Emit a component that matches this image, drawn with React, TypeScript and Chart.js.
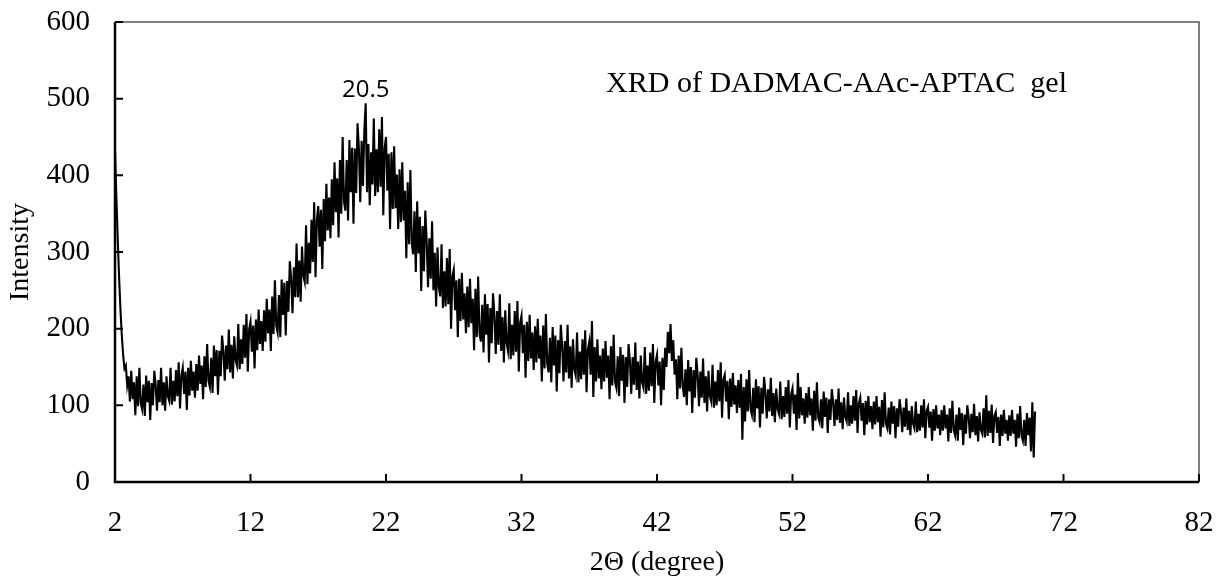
import React, { useEffect, useRef } from "react";
import { Chart, registerables } from "chart.js";

Chart.register(...registerables);

// 2θ grid of the scan (degrees)
const twoThetaStart = 2.0;
const twoThetaStep = 0.1;

const intensity: number[] = [
  432, 372, 318, 268, 226, 192, 166, 148, 152, 126,
  138, 105, 145, 108, 130, 87, 138, 99, 149, 103,
  95, 127, 86, 139, 104, 132, 81, 129, 100, 145,
  127, 93, 133, 104, 149, 100, 130, 93, 138, 112,
  106, 149, 101, 132, 105, 146, 112, 156, 96, 139,
  149, 115, 144, 94, 149, 113, 158, 119, 144, 110,
  154, 119, 165, 128, 152, 108, 164, 124, 180, 132,
  124, 162, 116, 178, 138, 172, 114, 171, 138, 191,
  171, 132, 178, 147, 199, 143, 179, 135, 190, 159,
  152, 206, 147, 186, 154, 205, 162, 219, 144, 199,
  209, 170, 204, 148, 212, 172, 225, 180, 210, 171,
  224, 183, 239, 194, 225, 171, 242, 193, 263, 204,
  195, 244, 189, 264, 218, 260, 191, 262, 222, 288,
  266, 220, 280, 241, 311, 241, 289, 235, 307, 269,
  261, 335, 258, 312, 272, 342, 287, 365, 267, 342,
  360, 307, 355, 278, 369, 314, 389, 328, 371, 318,
  395, 335, 417, 352, 396, 319, 420, 350, 450, 366,
  354, 420, 341, 446, 378, 436, 337, 435, 377, 468,
  435, 365, 445, 386, 458, 494, 378, 441, 361, 430,
  388, 474, 373, 434, 378, 460, 385, 476, 348, 436,
  450, 380, 428, 330, 430, 356, 438, 357, 401, 330,
  408, 339, 417, 341, 380, 292, 391, 310, 407, 312,
  297, 353, 274, 366, 298, 346, 249, 334, 275, 354,
  316, 254, 318, 265, 340, 250, 299, 229, 306, 254,
  242, 310, 227, 275, 229, 292, 232, 304, 200, 269,
  277, 224, 263, 189, 265, 210, 273, 212, 246, 194,
  255, 202, 265, 207, 239, 172, 252, 189, 268, 194,
  183, 231, 169, 245, 192, 232, 156, 227, 181, 246,
  218, 167, 223, 179, 245, 171, 215, 156, 224, 181,
  171, 233, 160, 205, 165, 223, 170, 236, 144, 208,
  217, 168, 205, 136, 209, 158, 218, 161, 195, 146,
  203, 156, 213, 161, 191, 131, 204, 148, 219, 154,
  143, 188, 130, 202, 152, 191, 118, 185, 142, 205,
  178, 131, 184, 143, 205, 135, 177, 123, 186, 147,
  139, 195, 130, 170, 134, 186, 140, 198, 117, 173,
  183, 140, 210, 111, 176, 131, 186, 135, 165, 121,
  174, 131, 184, 136, 165, 108, 177, 126, 192, 131,
  123, 164, 112, 176, 132, 166, 103, 163, 124, 180,
  158, 115, 163, 127, 182, 120, 157, 109, 165, 130,
  123, 176, 115, 152, 119, 169, 125, 180, 103, 157,
  166, 126, 157, 100, 162, 120, 175, 150, 196, 168,
  206, 158, 185, 140, 160, 108, 165, 122, 175, 125,
  111, 147, 100, 159, 118, 150, 90, 146, 110, 162,
  140, 99, 144, 110, 161, 103, 138, 92, 145, 112,
  105, 153, 97, 131, 100, 146, 105, 156, 84, 134,
  140, 105, 132, 82, 135, 98, 142, 101, 126, 90,
  133, 97, 141, 55, 124, 79, 134, 92, 146, 96,
  88, 123, 78, 134, 96, 125, 71, 123, 89, 137,
  117, 83, 121, 92, 136, 86, 116, 78, 122, 95,
  89, 131, 82, 112, 85, 124, 89, 133, 71, 114,
  122, 89, 114, 68, 142, 83, 124, 87, 109, 76,
  116, 84, 124, 87, 109, 67, 119, 80, 130, 84,
  78, 108, 70, 118, 85, 110, 64, 108, 81, 121,
  104, 73, 108, 81, 122, 77, 104, 69, 110, 85,
  79, 117, 73, 100, 76, 112, 80, 120, 64, 103,
  110, 80, 103, 61, 106, 75, 112, 78, 99, 69,
  105, 75, 112, 78, 98, 59, 107, 71, 117, 76,
  70, 97, 62, 105, 76, 99, 57, 96, 72, 108,
  93, 65, 97, 72, 109, 68, 93, 61, 99, 76,
  70, 105, 65, 89, 67, 100, 71, 108, 57, 93,
  98, 71, 92, 54, 95, 67, 100, 70, 88, 61,
  94, 67, 100, 70, 88, 53, 96, 64, 106, 68,
  61, 88, 54, 97, 68, 90, 48, 88, 63, 100,
  85, 57, 89, 65, 102, 61, 86, 53, 91, 68,
  63, 96, 58, 113, 60, 93, 64, 101, 51, 86,
  91, 64, 85, 47, 88, 60, 94, 63, 81, 54,
  87, 60, 94, 63, 81, 46, 89, 57, 99, 61,
  54, 81, 47, 90, 61, 84, 40, 104, 32, 92,
];

const xTicks = [2, 12, 22, 32, 42, 52, 62, 72, 82];
const yTicks = [0, 100, 200, 300, 400, 500, 600];

const chartTitle = "XRD of DADMAC-AAc-APTAC  gel";
const xTitle = "2\u0398 (degree)";
const yTitle = "Intensity";
const peakLabel = "20.5";
const peakLabelX = 20.5;
const peakLabelY = 502;

const serif = "'Liberation Serif', 'Times New Roman', serif";

const framePlugin = {
  id: "xrdFrame",
  afterDraw(chart: any) {
    const { ctx, chartArea, scales } = chart;
    const { left, right, top, bottom } = chartArea;
    const xs = scales.x;
    const ys = scales.y;
    ctx.save();
    // thin top / right border
    ctx.strokeStyle = "#555";
    ctx.lineWidth = 1.5;
    ctx.beginPath();
    ctx.moveTo(left, top);
    ctx.lineTo(right, top);
    ctx.lineTo(right, bottom);
    ctx.stroke();
    // inward ticks
    ctx.strokeStyle = "#000";
    ctx.lineWidth = 2;
    ctx.beginPath();
    yTicks.forEach((v) => {
      const py = ys.getPixelForValue(v);
      ctx.moveTo(left, py);
      ctx.lineTo(left + 8, py);
    });
    xTicks.forEach((v) => {
      const px = xs.getPixelForValue(v);
      ctx.moveTo(px, bottom);
      ctx.lineTo(px, bottom - 8);
    });
    ctx.stroke();
    // main axes
    ctx.lineWidth = 2.5;
    ctx.beginPath();
    ctx.moveTo(left, top);
    ctx.lineTo(left, bottom);
    ctx.lineTo(right, bottom);
    ctx.stroke();
    // peak annotation
    ctx.fillStyle = "#000";
    ctx.font = "24px 'Open Sans', 'Liberation Sans', sans-serif";
    ctx.textAlign = "center";
    ctx.textBaseline = "alphabetic";
    ctx.fillText(peakLabel, xs.getPixelForValue(peakLabelX), ys.getPixelForValue(peakLabelY));
    // in-plot title
    ctx.font = "30px " + serif;
    ctx.textAlign = "right";
    ctx.fillText(chartTitle, right - 132, top + 70);
    ctx.restore();
  },
};

export default function App() {
  const ref = useRef<HTMLCanvasElement | null>(null);

  useEffect(() => {
    if (!ref.current) return;
    const points = intensity.map((v, i) => ({
      x: Math.round((twoThetaStart + i * twoThetaStep) * 100) / 100,
      y: v,
    }));
    const chart = new Chart(ref.current, {
      type: "line",
      data: {
        datasets: [
          {
            data: points,
            borderColor: "#000",
            borderWidth: 2.1,
            pointRadius: 0,
            tension: 0,
            fill: false,
          },
        ],
      },
      options: {
        responsive: false,
        animation: false,
        layout: { padding: { top: 22, right: 24, bottom: 0, left: 0 } },
        plugins: {
          legend: { display: false },
          tooltip: { enabled: false },
          title: { display: false },
        },
        scales: {
          x: {
            type: "linear",
            min: 2,
            max: 82,
            afterBuildTicks: (s: any) => {
              s.ticks = xTicks.map((v) => ({ value: v }));
            },
            afterFit: (s: any) => {
              s.height = 98;
              s.paddingLeft = 0;
              s.paddingRight = 0;
            },
            grid: { display: false, drawTicks: false },
            border: { display: false },
            ticks: {
              autoSkip: false,
              maxRotation: 0,
              padding: 24,
              color: "#000",
              font: { family: serif, size: 29 },
            },
            title: {
              display: true,
              text: xTitle,
              color: "#000",
              font: { family: serif, size: 28 },
              padding: { top: 0, bottom: 1 },
            },
          },
          y: {
            type: "linear",
            min: 0,
            max: 600,
            afterBuildTicks: (s: any) => {
              s.ticks = yTicks.map((v) => ({ value: v }));
            },
            afterFit: (s: any) => {
              s.width = 115;
              s.paddingTop = 0;
              s.paddingBottom = 0;
            },
            grid: { display: false, drawTicks: false },
            border: { display: false },
            ticks: {
              autoSkip: false,
              padding: 25,
              color: "#000",
              font: { family: serif, size: 29 },
            },
            title: {
              display: true,
              text: yTitle,
              color: "#000",
              font: { family: serif, size: 28 },
              padding: { top: 4, bottom: 0 },
            },
          },
        },
      },
      plugins: [framePlugin],
    });
    return () => chart.destroy();
  }, []);

  return (
    <div style={{ position: "absolute", left: 0, top: 0, width: 1223, height: 580, background: "#fff" }}>
      <canvas ref={ref} width={1223} height={580} style={{ display: "block" }} />
    </div>
  );
}
